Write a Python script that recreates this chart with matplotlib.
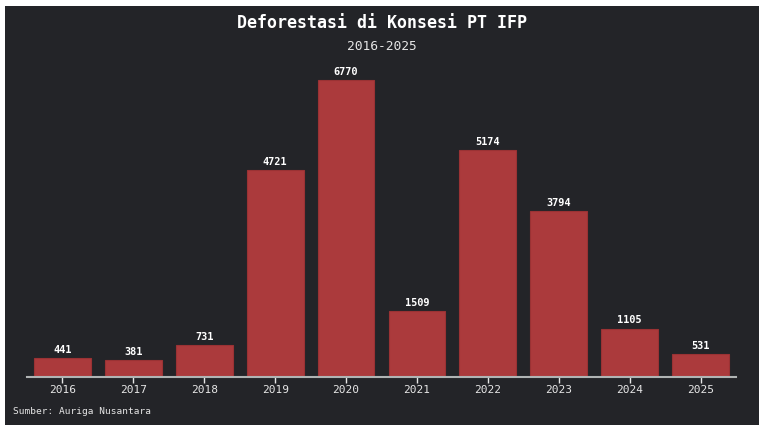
import matplotlib
matplotlib.use("Agg")
import matplotlib.pyplot as plt
from matplotlib.patches import Rectangle

years = ["2016", "2017", "2018", "2019", "2020", "2021", "2022", "2023", "2024", "2025"]
values = [441, 381, 731, 4721, 6770, 1509, 5174, 3794, 1105, 531]
title = "Deforestasi di Konsesi PT IFP"
subtitle = "2016-2025"
source = "Sumber: Auriga Nusantara"

W, H = 765, 433
bg = "#232428"
bar_c = "#ab3a3c"
plt.rcParams['font.family'] = ['DejaVu Sans Mono', 'Liberation Mono']

fig = plt.figure(figsize=(W/100, H/100), dpi=100, facecolor="white")
fig.patches.append(Rectangle((5/W, (H-425)/H), (759-5)/W, (425-6)/H,
                             transform=fig.transFigure, facecolor=bg,
                             edgecolor="none", zorder=-10))

ax = fig.add_axes([27/W, 56/H, (736-27)/W, 307/H])
ax.set_zorder(1)
ax.set_facecolor(bg)
ax.patch.set_alpha(0)
x = list(range(len(years)))
ax.bar(x, values, width=0.8, color=bar_c, edgecolor="#9a3234", linewidth=0.8)
for xi, v in zip(x, values):
    ax.text(xi, v + 70, str(v), ha="center", va="bottom", color="white",
            fontsize=7.4, fontweight="bold")
ax.set_xlim(-0.5, 9.5)
ax.set_ylim(0, 7000)
ax.set_xticks(x)
ax.set_xticklabels(years, color="#e6e6e6", fontsize=8)
ax.tick_params(axis="x", colors="#e6e6e6", length=4, width=1, pad=2)
ax.set_yticks([])
for s in ["top", "right", "left"]:
    ax.spines[s].set_visible(False)
ax.spines["bottom"].set_color("#b0b4b4")
ax.spines["bottom"].set_linewidth(1.5)

fig.text(382/W, 1 - 23/H, title, ha="center", va="center", color="white",
         fontsize=12, fontweight="bold")
fig.text(382/W, 1 - 47/H, subtitle, ha="center", va="center", color="#e6e6e6",
         fontsize=9.3)
fig.text(13/W, 1 - 412/H, source, ha="left", va="center", color="#e6e6e6",
         fontsize=6.8)

fig.savefig("out.png", dpi=100, facecolor="white")
